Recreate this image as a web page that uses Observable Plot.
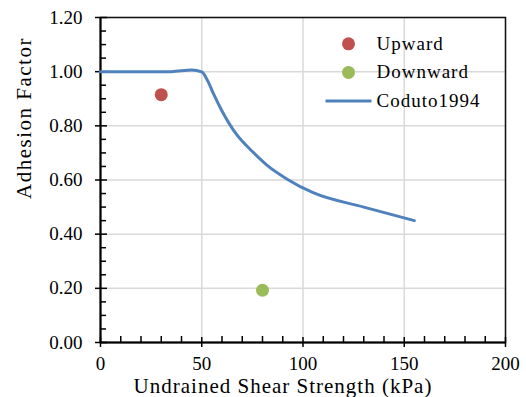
<!DOCTYPE html>
<html>
<head>
<meta charset="utf-8">
<script src="https://cdn.jsdelivr.net/npm/d3@7"></script>
<script src="https://cdn.jsdelivr.net/npm/@observablehq/plot@0.6"></script>
<style>
  html, body { margin: 0; padding: 0; background: #fff; }
  #chart svg { display: block; }
</style>
</head>
<body>
<div id="chart"></div>
<script>
// Measured adhesion factors
const upwardShear = [30];
const upwardAdhesion = [0.915];
const downwardShear = [80];
const downwardAdhesion = [0.193];

// Coduto (1994) adhesion factor curve
const codutoShear =    [0,   35,  45,    50,    53,    56,    60,    67,   75,    82,    92,    105,   130,  155];
const codutoAdhesion = [1.0, 1.0, 1.006, 0.999, 0.965, 0.915, 0.855, 0.77, 0.705, 0.656, 0.604, 0.553, 0.50, 0.45];

// Axis ticks
const xTicks = [0, 50, 100, 150, 200];
const xMinorTicks = [10, 20, 30, 40, 60, 70, 80, 90, 110, 120, 130, 140, 160, 170, 180, 190];
const yTicks = [0, 0.2, 0.4, 0.6, 0.8, 1.0, 1.2];
const yMinorTicks = [0.05, 0.1, 0.15, 0.25, 0.3, 0.35, 0.45, 0.5, 0.55, 0.65, 0.7, 0.75, 0.85, 0.9, 0.95, 1.05, 1.1, 1.15];

const xTitle = "Undrained Shear Strength (kPa)";
const yTitle = "Adhesion Factor";
const legendLabels = ["Upward", "Downward", "Coduto1994"];
const colors = {up: "#C0504D", down: "#9BBB59", curve: "#4F81BD"};

const upward = upwardShear.map((x, i) => ({x, y: upwardAdhesion[i]}));
const downward = downwardShear.map((x, i) => ({x, y: downwardAdhesion[i]}));
const coduto = codutoShear.map((x, i) => ({x, y: codutoAdhesion[i]}));

const W = 526, H = 397;
const M = {top: 17, right: 21, bottom: 55, left: 100};
const plotW = W - M.left - M.right;
const plotH = H - M.top - M.bottom;

// short horizontal stroke used as the line swatch in the legend
const dashSymbol = {
  draw(context) {
    context.moveTo(-23, 0);
    context.lineTo(23, 0);
  }
};

const font = "'Liberation Serif', 'Times New Roman', serif";
const legendDy = (i) => 26.3 + i * 28.6;

const chart = Plot.plot({
  width: W,
  height: H,
  marginTop: M.top,
  marginRight: M.right,
  marginBottom: M.bottom,
  marginLeft: M.left,
  style: {fontFamily: font, fontSize: "19px", color: "#000", background: "#fff"},
  x: {domain: [0, 200]},
  y: {domain: [0, 1.2]},
  marks: [
    Plot.gridX(xTicks, {stroke: "#d9d9d9", strokeOpacity: 1, strokeWidth: 1.5}),
    Plot.gridY(yTicks, {stroke: "#d9d9d9", strokeOpacity: 1, strokeWidth: 1.5}),
    Plot.frame({stroke: "#111", strokeWidth: 1.5}),
    Plot.ruleX([0], {stroke: "#000", strokeWidth: 2}),
    Plot.ruleY([0], {stroke: "#000", strokeWidth: 2}),
    // tick marks: major cross the axis, minor point inward
    Plot.tickX(xMinorTicks, {x: d => d, insetTop: plotH - 6, stroke: "#000", strokeWidth: 1.5}),
    Plot.tickX(xTicks, {x: d => d, insetTop: plotH - 5, insetBottom: -5, stroke: "#000", strokeWidth: 1.5}),
    Plot.tickY(yMinorTicks, {y: d => d, insetRight: plotW - 6, stroke: "#000", strokeWidth: 1.5}),
    Plot.tickY(yTicks, {y: d => d, insetRight: plotW - 7, insetLeft: -5, stroke: "#000", strokeWidth: 1.5}),
    Plot.axisX(xTicks, {tickSize: 0, tickPadding: 14, fontSize: 19, label: null}),
    Plot.axisY(yTicks, {tickSize: 0, tickPadding: 18, fontSize: 19, label: null, tickFormat: d => d.toFixed(2)}),
    // axis titles
    Plot.text([xTitle], {
      frameAnchor: "bottom", lineAnchor: "middle", dy: 43.5, dx: -20, fontSize: 21
    }),
    Plot.text([yTitle], {
      frameAnchor: "left", lineAnchor: "middle", dx: -76, dy: 19, rotate: -90, fontSize: 21
    }),
    // data
    Plot.line(coduto, {x: "x", y: "y", stroke: colors.curve, strokeWidth: 3, curve: "monotone-x"}),
    Plot.dot(upward, {x: "x", y: "y", r: 6.5, fill: colors.up}),
    Plot.dot(downward, {x: "x", y: "y", r: 6.5, fill: colors.down}),
    // legend
    Plot.dot([legendLabels[0]], {frameAnchor: "top-left", dx: 248, dy: legendDy(0), r: 6.5, fill: colors.up}),
    Plot.dot([legendLabels[1]], {frameAnchor: "top-left", dx: 248, dy: legendDy(1), r: 6.5, fill: colors.down}),
    Plot.dot([legendLabels[2]], {frameAnchor: "top-left", dx: 248, dy: legendDy(2), symbol: dashSymbol, stroke: colors.curve, strokeWidth: 3, fill: "none"}),
    ...legendLabels.map((label, i) => Plot.text([label], {
      frameAnchor: "top-left", lineAnchor: "middle", dx: 276, dy: legendDy(i), textAnchor: "start", fontSize: 19
    }))
  ]
});

// the titles and legend entries are set slightly wider than the tick labels
const spacing = new Map([[xTitle, "1px"], [yTitle, "1.5px"], ...legendLabels.map(l => [l, "1px"])]);
chart.querySelectorAll("text").forEach(t => {
  const s = spacing.get(t.textContent);
  if (s) t.setAttribute("letter-spacing", s);
});
document.getElementById("chart").appendChild(chart);
</script>
</body>
</html>
